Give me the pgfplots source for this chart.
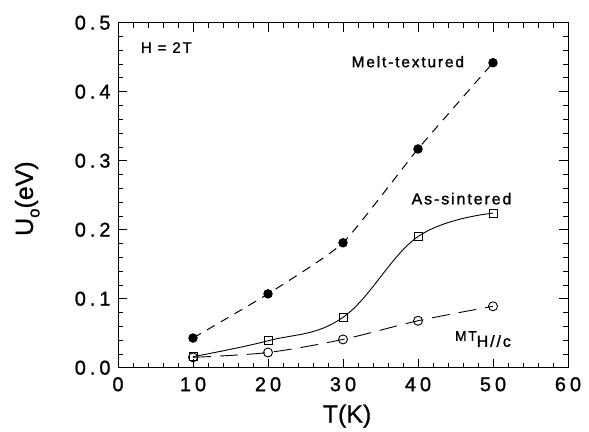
\documentclass[border=0pt]{standalone}
\usepackage{fontspec}
\setmainfont{Liberation Sans}
\newfontfamily\tickfont[LetterSpace=20, FakeBold=1.2]{Liberation Sans}
\newfontfamily\lblfont[LetterSpace=12, FakeBold=1.4]{Liberation Sans}
\newfontfamily\axfont[FakeBold=0.8]{Liberation Sans}
\usepackage{pgfplots}
\pgfplotsset{compat=1.18}
\usetikzlibrary{calc}

\begin{document}
\begin{tikzpicture}
\begin{axis}[
    name=ax,
    scale only axis,
    width=450bp, height=345bp,
    xmin=0, xmax=60, ymin=0, ymax=0.5,
    xtick={0,10,...,60},
    ytick={0,0.1,...,0.5},
    minor x tick num=4,
    minor y tick num=4,
    tick align=inside,
    major tick length=9bp,
    minor tick length=5bp,
    axis line style={line width=0.9bp},
    every tick/.style={line width=0.8bp, black},
    /pgf/number format/assume math mode=true,
    y tick label style={/pgf/number format/fixed, /pgf/number format/fixed zerofill, /pgf/number format/precision=1},
    ticklabel style={font=\tickfont\fontsize{20}{24}\selectfont},
    x tick label style={yshift=-6bp},
    y tick label style={xshift=-4bp},
    xlabel={T(K)},
    ylabel={U\raisebox{-0.5ex}{\fontsize{17}{17}\selectfont o}(eV)},
    label style={font=\axfont\fontsize{25}{28}\selectfont},
    xlabel style={at={(axis description cs:0.509,-0.159)}, anchor=base},
    ylabel style={at={(axis description cs:-0.189,0.49)}, anchor=base},
]
% Melt-textured
\addplot[black, line width=1bp, dash pattern=on 9bp off 7bp, smooth, tension=0.3,
    mark=*, mark size=4.2bp, mark options={solid, fill=black}]
    coordinates {(10,0.043) (20,0.107) (30,0.181) (40,0.317) (50,0.442)};
% As-sintered
\addplot[black, line width=0.9bp, smooth, tension=0.65,
    mark=square, mark size=4bp, mark options={solid, fill=white}]
    coordinates {(10,0.016) (20,0.039) (30,0.073) (40,0.190) (50,0.224)};
% MT H//c
\addplot[black, line width=0.9bp, dash pattern=on 18bp off 9bp, smooth,
    mark=o, mark size=4.5bp, mark options={solid, fill=white}]
    coordinates {(10,0.015) (20,0.022) (30,0.041) (40,0.068) (50,0.089)};

\node[anchor=west, font=\lblfont\fontsize{15}{18}\selectfont] at (axis cs:2.6,0.464) {H = 2T};
\node[anchor=east, font=\lblfont\fontsize{15.5}{18}\selectfont] at (axis cs:46.6,0.4435) {Melt-textured};
\node[anchor=center, font=\lblfont\fontsize{16}{18}\selectfont] at (axis cs:45.8,0.245) {As-sintered};
\node[anchor=base west, inner sep=0pt, font=\lblfont\fontsize{14}{16}\selectfont] at (axis cs:44.9,0.039)
    {MT\raisebox{-6bp}{\fontsize{16}{18}\selectfont H//c}};
\end{axis}
\pgfresetboundingbox
\path ($(ax.south west)+(-118bp,-64bp)$) rectangle ($(ax.north east)+(21bp,22.7bp)$);
\end{tikzpicture}
\end{document}
